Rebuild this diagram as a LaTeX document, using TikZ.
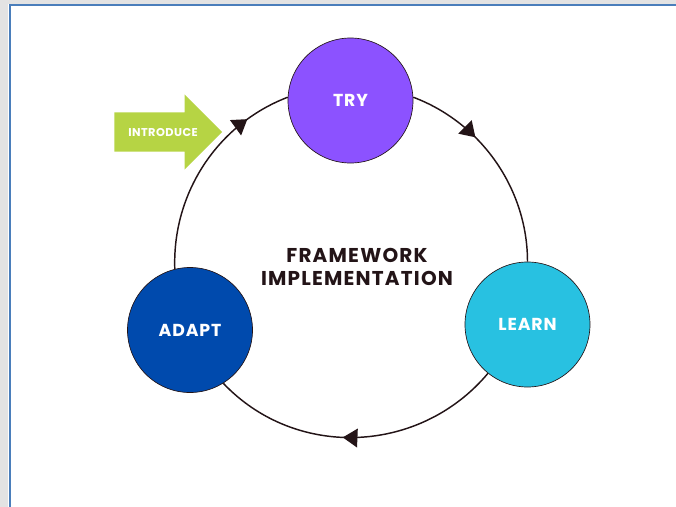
\documentclass[tikz,border=0pt]{standalone}
\usepackage{fontspec}
\setmainfont{Poppins}
\usetikzlibrary{arrows.meta,shapes.arrows,decorations.markings}
\definecolor{trypurple}{HTML}{8C52FF}
\definecolor{learncyan}{HTML}{28C1E1}
\definecolor{adaptblue}{HTML}{004AAD}
\definecolor{introlime}{HTML}{B6D444}
\definecolor{ink}{HTML}{231417}
\definecolor{framegray}{HTML}{E3E3E3}
\definecolor{frameblue}{HTML}{4A7EBB}
\begin{document}
\begin{tikzpicture}[x=0.75pt,y=0.75pt,
  stage/.style={circle,draw=ink,line width=0.5pt,minimum size=93.75pt,inner sep=0pt,
    text=white,font=\fontsize{13}{15}\selectfont\bfseries\addfontfeature{LetterSpace=5}},
  flow/.style={draw=ink,line width=1.1pt,postaction={decorate},
    decoration={markings,mark=at position #1 with {\arrow{Triangle[length=11pt,width=14pt]}}}}]
\useasboundingbox (0,0) rectangle (676,-507);
% window frame
\fill[framegray] (0,0) rectangle (676,-4);
\fill[framegray] (0,0) rectangle (8,-507);
\draw[frameblue,line width=1.5pt] (9.5,-507) -- (9.5,-5) -- (676,-5);
% stages
\node[stage,fill=trypurple]   (try)   at (350.5,-100.5) {TRY};
\node[stage,fill=learncyan]   (learn) at (527.5,-324.5) {LEARN};
\node[stage,fill=adaptblue]   (adapt) at (190,-330)     {ADAPT};
\node[text=ink,align=center,font=\fontsize{15}{17.3}\selectfont\bfseries\addfontfeature{LetterSpace=6}]
  (title) at (357,-266.5) {FRAMEWORK\\IMPLEMENTATION};
\node[single arrow,fill=introlime,text=white,
  font=\fontsize{8.5}{10}\selectfont\bfseries\addfontfeature{LetterSpace=4},
  minimum height=80.25pt,single arrow head extend=13.5pt,
  text height=6pt,text depth=0pt,inner ysep=11.6pt,anchor=tail]
  (intro) at (114,-132) {\hspace*{7pt}INTRODUCE};
% cycle
\draw[flow=0.35] (try.3)     to[out=-20.6,in=90,looseness=0.93]  (learn.north);
\draw[flow=0.55] (learn.231) to[out=-130,in=-46.5,looseness=1.02] (adapt.302);
\draw[flow=0.79] (adapt.104) to[out=92,in=201,looseness=0.94]    (try.177);
\end{tikzpicture}
\end{document}
